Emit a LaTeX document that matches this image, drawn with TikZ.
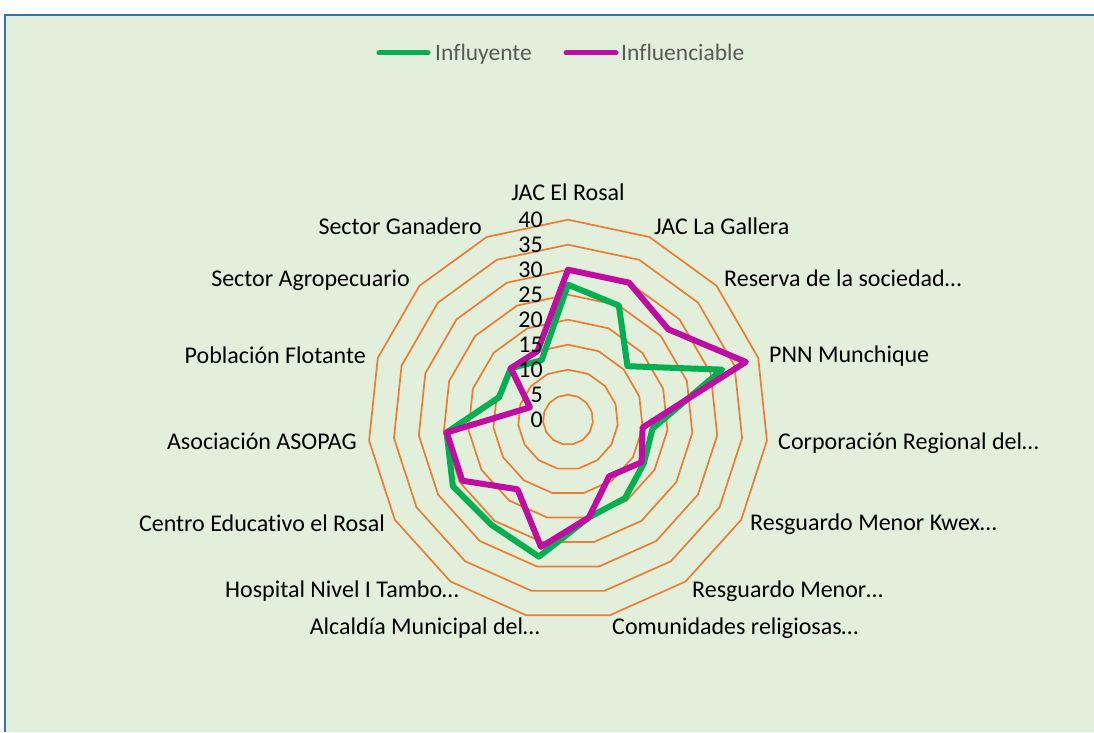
\documentclass[tikz,border=0pt]{standalone}
\usepackage{fontspec}
\setmainfont{Carlito}[Ligatures={NoCommon}]
\definecolor{bgfill}{HTML}{E2EFDA}
\definecolor{framecol}{HTML}{2E75B6}
\definecolor{gridcol}{HTML}{ED7D31}
\definecolor{sergreen}{HTML}{00B050}
\definecolor{sermag}{HTML}{C00CA2}
\definecolor{legtext}{HTML}{595959}
\tikzset{
  gridring/.style={draw=gridcol, line width=1.7pt, line join=miter},
  seriesline/.style={line width=6pt, line join=round, line cap=round},
  catlabel/.style={font=\fontsize{24}{28}\selectfont, text=black, inner sep=0pt},
  ticklabel/.style={font=\fontsize{24}{28}\selectfont, text=black, inner sep=0pt, anchor=base east},
  legendtxt/.style={font=\fontsize{23.5}{27}\selectfont, text=legtext, inner sep=0pt, anchor=base west}
}
\begin{document}
\begin{tikzpicture}[x=1pt,y=1pt]
\useasboundingbox (0,0) rectangle (1094,732);
\fill[white] (0,0) rectangle (1094,732);
\fill[bgfill] (5,0) rectangle (1094,716.5);
\draw[framecol, line width=2pt] (4.5,0) -- (4.5,716.5) -- (1094,716.5);
% legend
\coordinate (lg1) at (379,679);
\coordinate (lg2) at (428,679);
\coordinate (lm1) at (566,679);
\coordinate (lm2) at (616,679);
\draw[seriesline, sergreen, line width=5pt] (lg1) -- (lg2);
\node[legendtxt] (ltg) at (435,671.5) {Influyente};
\draw[seriesline, sermag, line width=5pt] (lm1) -- (lm2);
\node[legendtxt] (ltm) at (621,671.5) {Influenciable};
% chart
\begin{scope}[shift={(568,312.3)}]
  \foreach \r in {1,...,8} {
    \draw[gridring] (90:\r*25) \foreach \k in {1,...,14} { -- ({90-24*\k}:\r*25) } -- cycle;
  }
  \foreach \v [count=\k from 0] in {27,25,16,32.4,17,17.5,19.4,20,28,26,26.6,24.4,14.5,15.4,13}
    \coordinate (g\k) at ({90-24*\k}:{\v*5});
  \foreach \v [count=\k from 0] in {30,30,27,37.4,15,17,14,20,26,17.2,24.4,24.4,8,15.4,15}
    \coordinate (m\k) at ({90-24*\k}:{\v*5});
  \draw[seriesline, sergreen] (g0) \foreach \k in {1,...,14} { -- (g\k) } -- cycle;
  \draw[seriesline, sermag] (m0) \foreach \k in {1,...,14} { -- (m\k) } -- cycle;
  \foreach \t in {0,5,...,40}
    \node[ticklabel] (t\t) at (-25,{\t*5-8}) {\t};
\end{scope}
% category labels (baseline positions)
\node[catlabel, anchor=base] (c0) at (568,531.5) {JAC El Rosal};
\node[catlabel, anchor=base west] (c1) at (654,497) {JAC La Gallera};
\node[catlabel, anchor=base west] (c2) at (724,445) {Reserva de la sociedad…};
\node[catlabel, anchor=base west] (c3) at (769,370) {PNN Munchique};
\node[catlabel, anchor=base west] (c4) at (778,283) {Corporación Regional del…};
\node[catlabel, anchor=base west] (c5) at (750,202) {Resguardo Menor Kwex…};
\node[catlabel, anchor=base west] (c6) at (692,135) {Resguardo Menor…};
\node[catlabel, anchor=base west] (c7) at (612,98) {Comunidades religiosas…};
\node[catlabel, anchor=base east] (c8) at (540,98) {Alcaldía Municipal del…};
\node[catlabel, anchor=base east] (c9) at (459,135) {Hospital Nivel I Tambo…};
\node[catlabel, anchor=base east] (c10) at (385,201) {Centro Educativo el Rosal};
\node[catlabel, anchor=base east] (c11) at (357,283) {Asociación ASOPAG};
\node[catlabel, anchor=base east] (c12) at (366,369) {Población Flotante};
\node[catlabel, anchor=base east] (c13) at (410,445) {Sector Agropecuario};
\node[catlabel, anchor=base east] (c14) at (482,497) {Sector Ganadero};
\end{tikzpicture}
\end{document}
